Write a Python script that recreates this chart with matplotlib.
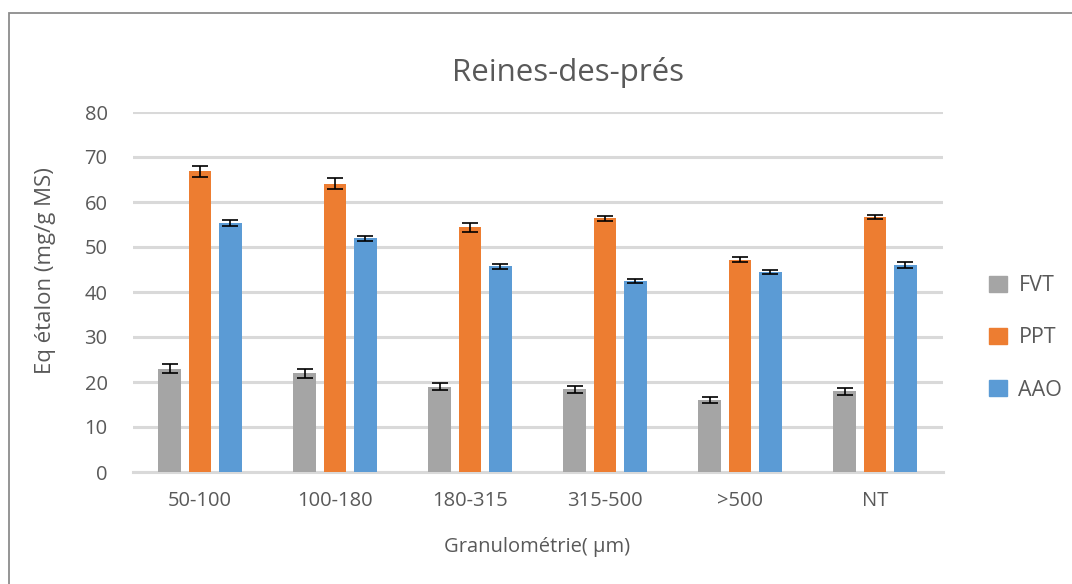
import matplotlib
matplotlib.use("Agg")
import matplotlib.pyplot as plt
import numpy as np
from matplotlib.patches import Rectangle

categories = ["50-100", "100-180", "180-315", "315-500", ">500", "NT"]
series_names = ["FVT", "PPT", "AAO"]
fvt = [23.0, 21.9, 19.0, 18.4, 16.0, 17.9]
ppt = [66.8, 64.1, 54.4, 56.4, 47.2, 56.7]
aao = [55.3, 51.9, 45.7, 42.5, 44.5, 46.0]
fvt_err = [1.0, 0.9, 0.7, 0.75, 0.6, 0.8]
ppt_err = [1.3, 1.2, 1.0, 0.6, 0.6, 0.5]
aao_err = [0.7, 0.6, 0.5, 0.5, 0.5, 0.6]
colors = ["#A5A5A5", "#ED7D31", "#5B9BD5"]

plt.rcParams['font.family'] = ['Open Sans', 'DejaVu Sans']
W, H = 1072, 584
fig = plt.figure(figsize=(W / 100, H / 100), dpi=100)
ax = fig.add_axes([132.5 / W, (H - 472) / H, 810 / W, 360 / H])

x = np.arange(len(categories))
bw = 0.17
offs = [-0.225, 0.0, 0.225]
vals = [fvt, ppt, aao]
errs = [fvt_err, ppt_err, aao_err]
for i in range(3):
    ax.bar(x + offs[i], vals[i], width=bw, color=colors[i], zorder=3,
           label=series_names[i])
    ax.errorbar(x + offs[i], vals[i], yerr=errs[i], fmt='none', ecolor='black',
                elinewidth=1.2, capsize=5.5, capthick=1.2, zorder=4)

ax.set_xlim(-0.5, len(categories) - 0.5)
ax.set_ylim(0, 80)
ax.set_yticks(np.arange(0, 81, 10))
ax.set_xticks(x)
ax.set_xticklabels(categories)
ax.grid(axis='y', color='#D9D9D9', linewidth=2.2, zorder=0)
ax.set_axisbelow(True)
for s in ['top', 'right', 'left']:
    ax.spines[s].set_visible(False)
ax.spines['bottom'].set_color('#D9D9D9')
ax.spines['bottom'].set_linewidth(2.2)
ax.tick_params(axis='both', length=0, labelsize=14.5, labelcolor='#595959')
ax.tick_params(axis='y', pad=18)
ax.tick_params(axis='x', pad=14)

ax.set_ylabel("Eq étalon (mg/g MS)", fontsize=16, color='#595959')
ax.yaxis.set_label_coords(-0.094, 0.56)
ax.set_xlabel("Granulométrie( µm)", fontsize=14.5, color='#595959')
ax.xaxis.set_label_coords(0.5, -0.18)

fig.text(568 / W, 1 - 72 / H, "Reines-des-prés", fontsize=22.5, color='#595959',
         ha='center', va='center')

leg_handles = [Rectangle((0, 0), 1, 1, color=c) for c in colors]
fig.legend(leg_handles, series_names, loc='center left',
           bbox_to_anchor=(970 / W, 1 - 338 / H), frameon=False,
           fontsize=15.5, labelcolor='#595959', handlelength=0.8, handleheight=0.8,
           labelspacing=1.45, handletextpad=0.55)

fig.patches.append(Rectangle((9 / W, -0.1), 1.2, 1 - 13 / H + 0.1,
                             transform=fig.transFigure, fill=False,
                             edgecolor='#8C8C8C', linewidth=1.3))

fig.savefig("out.png", dpi=100)
